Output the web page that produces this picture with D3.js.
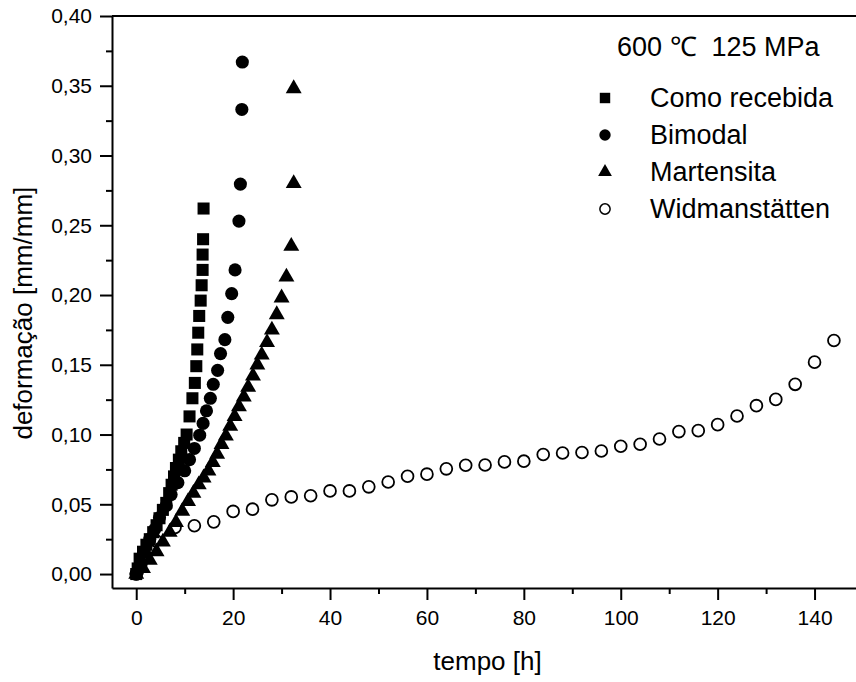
<!DOCTYPE html>
<html>
<head>
<meta charset="utf-8">
<script src="https://cdn.jsdelivr.net/npm/d3@7"></script>
<style>
    body { margin: 0; background: #fff; }
    #chart-area { width: 856px; height: 682px; }
    text { font-family: "Liberation Sans", Arial, sans-serif; fill: #000; }
    .axis path, .axis line { stroke: #000; stroke-width: 2px; }
    .axis text { font-size: 21px; }
    .label { font-size: 26px; text-anchor: middle; }
    .legend text { font-size: 27px; white-space: pre; }
</style>
</head>
<body>
<div id="chart-area"></div>
<script>
// deformação x tempo, 600 ℃ 125 MPa
const seriesNames = ["Como recebida", "Bimodal", "Martensita", "Widmanstätten"];

const comoRecebidaT = [0, 0.3, 0.7, 1.4, 2.1, 2.8, 3.5, 4.2, 4.8, 5.5, 6.2, 6.8, 7.3, 7.8, 8.2, 8.8, 9.3, 9.9, 10.4, 11.0, 11.6, 12.1, 12.4, 12.6, 12.8, 13.0, 13.3, 13.5, 13.7, 13.7, 13.8, 13.9];
const comoRecebidaV = [0, 0.004, 0.011, 0.016, 0.021, 0.025, 0.030, 0.035, 0.040, 0.046, 0.051, 0.058, 0.064, 0.070, 0.076, 0.082, 0.088, 0.094, 0.100, 0.113, 0.126, 0.137, 0.149, 0.161, 0.173, 0.185, 0.196, 0.207, 0.218, 0.229, 0.240, 0.262];

const bimodalT = [0, 1.0, 1.7, 2.8, 3.8, 4.8, 6.2, 7.2, 8.6, 10.0, 11.0, 12.0, 13.1, 13.8, 14.5, 15.3, 15.9, 16.8, 17.4, 18.3, 18.9, 19.7, 20.4, 21.2, 21.5, 21.8, 21.9];
const bimodalV = [0, 0.007, 0.0155, 0.025, 0.032, 0.0405, 0.049, 0.057, 0.0655, 0.074, 0.082, 0.090, 0.0995, 0.108, 0.117, 0.126, 0.136, 0.146, 0.158, 0.168, 0.184, 0.201, 0.218, 0.253, 0.2795, 0.333, 0.367];

const martensitaT = [0, 1.4, 2.8, 4.2, 5.5, 6.9, 8.2, 9.5, 10.7, 11.8, 12.9, 13.9, 14.9, 15.8, 16.7, 17.6, 18.5, 19.4, 20.3, 21.2, 22.2, 23.1, 24.1, 25.0, 25.9, 27.0, 28.0, 29.0, 30.0, 31.0, 32.0, 32.5, 32.5];
const martensitaV = [0, 0.004, 0.010, 0.016, 0.023, 0.030, 0.037, 0.045, 0.052, 0.058, 0.064, 0.069, 0.074, 0.080, 0.086, 0.093, 0.099, 0.106, 0.113, 0.120, 0.127, 0.134, 0.142, 0.150, 0.157, 0.166, 0.175, 0.186, 0.198, 0.213, 0.235, 0.280, 0.348];

const widmanstattenT = [0, 4, 8, 12, 16, 20, 24, 28, 32, 36, 40, 44, 48, 52, 56, 60, 64, 68, 72, 76, 80, 84, 88, 92, 96, 100, 104, 108, 112, 116, 120, 124, 128, 132, 136, 140, 144];
const widmanstattenV = [0, 0.024, 0.0334, 0.0346, 0.0374, 0.0449, 0.0465, 0.0532, 0.0553, 0.0561, 0.0596, 0.0596, 0.0625, 0.066, 0.0701, 0.0716, 0.0754, 0.078, 0.0782, 0.0804, 0.0809, 0.0857, 0.0868, 0.0871, 0.0882, 0.0916, 0.093, 0.0968, 0.1021, 0.1028, 0.1071, 0.1133, 0.1207, 0.1252, 0.136, 0.1519, 0.1674];

const xTicks = [0, 20, 40, 60, 80, 100, 120, 140];
const yTicks = [0, 0.05, 0.10, 0.15, 0.20, 0.25, 0.30, 0.35, 0.40];


class CreepChart {

    constructor(_parentElement, _series) {
        this.parentElement = _parentElement;
        this.series = _series;
        this.initVis();
    }

    initVis() {
        let vis = this;

        vis.margin = {top: 16, right: -7, bottom: 94, left: 112};
        vis.width = 856 - vis.margin.left - vis.margin.right;
        vis.height = 682 - vis.margin.top - vis.margin.bottom;

        vis.svg = d3.select(`#${vis.parentElement}`).append("svg")
            .attr("width", 856)
            .attr("height", 682)
            .append("g")
            .attr("transform", `translate(${vis.margin.left}, ${vis.margin.top})`);

        vis.x = d3.scaleLinear().domain([-5, 150]).range([0, vis.width]);
        vis.y = d3.scaleLinear().domain([-0.01, 0.40]).range([vis.height, 0]);

        // minor ticks first, majors drawn on top
        vis.svg.append("g")
            .attr("class", "axis")
            .attr("transform", `translate(0, ${vis.height})`)
            .call(d3.axisBottom(vis.x).tickValues(d3.range(10, 150, 20)).tickSize(6).tickFormat(""))
            .select(".domain").remove();

        vis.svg.append("g")
            .attr("class", "axis")
            .call(d3.axisLeft(vis.y).tickValues(d3.range(0.025, 0.4, 0.05)).tickSize(6).tickFormat(""))
            .select(".domain").remove();

        vis.svg.append("g")
            .attr("class", "x-axis axis")
            .attr("transform", `translate(0, ${vis.height})`)
            .call(d3.axisBottom(vis.x).tickValues(xTicks).tickSize(12).tickPadding(10).tickSizeOuter(0));

        vis.svg.append("g")
            .attr("class", "y-axis axis")
            .call(d3.axisLeft(vis.y).tickValues(yTicks).tickSize(12).tickPadding(8).tickSizeOuter(0)
                .tickFormat(d => d3.format(".2f")(d).replace(".", ",")));

        // top frame line
        vis.svg.append("line")
            .attr("x1", 0).attr("x2", vis.width)
            .attr("y1", 0).attr("y2", 0)
            .attr("stroke", "#000").attr("stroke-width", 2);

        vis.svg.append("text")
            .attr("class", "label")
            .attr("x", vis.x(72.5))
            .attr("y", vis.height + 82)
            .text("tempo [h]");

        vis.svg.append("text")
            .attr("class", "label")
            .attr("transform", "rotate(-90)")
            .attr("x", -vis.y(0.187))
            .attr("y", -80)
            .text("deformação [mm/mm]");

        vis.updateVis();
    }

    updateVis() {
        let vis = this;

        vis.series.forEach(s => {
            let pts = s.t.map((t, i) => ({t: t, v: s.v[i]}));

            vis.svg.append("g")
                .selectAll("path")
                .data(pts)
                .join("path")
                .attr("transform", d => `translate(${vis.x(d.t)}, ${vis.y(d.v)})`)
                .attr("d", d3.symbol().type(s.type).size(s.size))
                .attr("fill", s.open ? "none" : "#000")
                .attr("stroke", "#000")
                .attr("stroke-width", s.open ? 1.8 : 0);
        });

        // legend
        let legend = vis.svg.append("g")
            .attr("class", "legend")
            .attr("transform", `translate(${605 - vis.margin.left}, 0)`);

        legend.append("text")
            .attr("x", 12)
            .attr("y", 31)
            .attr("dy", "0.35em")
            .text("600 ℃  125 MPa");

        let rows = legend.selectAll(".row")
            .data(vis.series)
            .join("g")
            .attr("class", "row")
            .attr("transform", (d, i) => `translate(0, ${82 + i * 37})`);

        rows.append("path")
            .attr("d", d => d3.symbol().type(d.type).size(d.size * 0.75)())
            .attr("fill", d => d.open ? "none" : "#000")
            .attr("stroke", "#000")
            .attr("stroke-width", d => d.open ? 1.5 : 0);

        rows.append("text")
            .attr("x", 45)
            .attr("dy", "0.35em")
            .text(d => d.name);
    }
}

new CreepChart("chart-area", [
    {name: seriesNames[0], t: comoRecebidaT, v: comoRecebidaV, type: d3.symbolSquare, size: 145},
    {name: seriesNames[1], t: bimodalT, v: bimodalV, type: d3.symbolCircle, size: 135},
    {name: seriesNames[2], t: martensitaT, v: martensitaV, type: d3.symbolTriangle, size: 110},
    {name: seriesNames[3], t: widmanstattenT, v: widmanstattenV, type: d3.symbolCircle, size: 110, open: true}
]);
</script>
</body>
</html>
